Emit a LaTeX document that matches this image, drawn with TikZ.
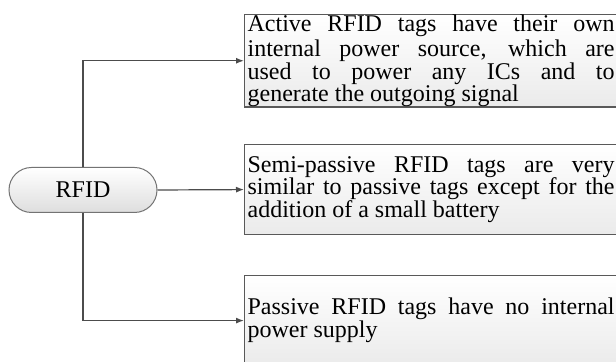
\documentclass[tikz,border=0pt]{standalone}
\usepackage{fontspec}
\setmainfont{Liberation Serif}
\usepackage{tikz}
\usetikzlibrary{arrows.meta}

\begin{document}
\begin{tikzpicture}[x=0.5pt,y=-0.5pt,
    tagbox/.style={draw=black!65,line width=0.6pt,top color=white,bottom color=black!8,
      text width=183.5pt,inner xsep=1.5pt,inner ysep=0pt,align=justify,anchor=north west,
      minimum height=45pt,font=\fontsize{12}{11.35}\selectfont},
    link/.style={draw=black!70,line width=0.6pt,-{Latex[length=4pt,width=3pt]}}]

    \clip (0,0) rectangle (616,362);

    \node[draw=black!55,line width=0.5pt,top color=white,bottom color=black!13,
      minimum width=74pt,minimum height=22.5pt,rounded corners=11.25pt,
      font=\fontsize{12}{12}\selectfont]  (rfid) at (83, 190)  {RFID};

    \node[tagbox]  (active) at (244, 14)
      {\vspace*{1.2pt}Active RFID tags have their own\linebreak internal power source, which are\linebreak used to power any ICs and to\linebreak generate the outgoing signal\par\vspace*{-1.6pt}};
    \node[tagbox]  (semi) at (244, 144)
      {Semi-passive RFID tags are very\linebreak similar to passive tags except for the\linebreak addition of a small battery};
    \node[tagbox]  (passive) at (244, 275)
      {Passive RFID tags have no internal\linebreak power supply};

    \draw[link] (rfid.north) |- (active.west);
    \draw[link] (rfid.east) -- (semi.west);
    \draw[link] (rfid.south) |- (passive.west);
  \end{tikzpicture}
\end{document}
